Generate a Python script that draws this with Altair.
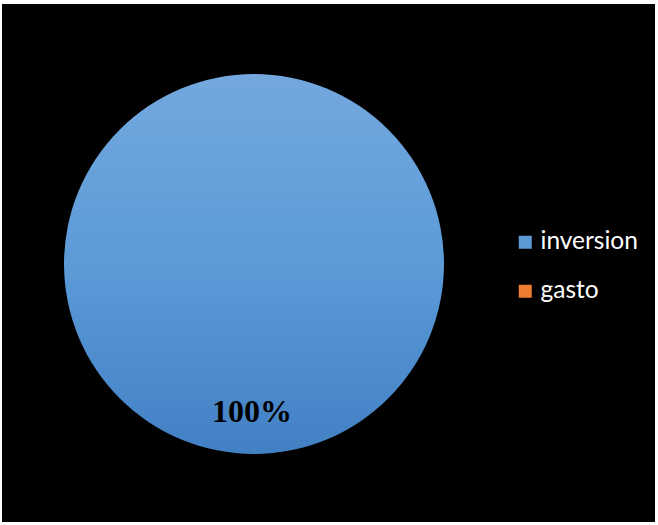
import altair as alt
import pandas as pd

categories = ["inversion", "gasto"]
values = [100, 0]
labels = ["100%", ""]
colors = ["#5b9bd5", "#ed7d31"]

df = pd.DataFrame({"cat": categories, "value": values, "label": labels})

grad = alt.Gradient(
    gradient="linear",
    stops=[alt.GradientStop(color="#74a8de", offset=0),
           alt.GradientStop(color="#5b9bd8", offset=0.5),
           alt.GradientStop(color="#4280c4", offset=1)],
    x1=0, x2=0, y1=0, y2=1,
)

base = alt.Chart(df)

pie = base.transform_filter("datum.value > 0").mark_arc(radius=190, fill=grad, strokeWidth=0).encode(
    theta=alt.Theta("value:Q", stack=True),
    x=alt.value(252),
    y=alt.value(260),
)

txt = base.transform_filter("datum.value > 0").mark_text(
    font="Liberation Serif", fontWeight="bold", fontSize=32, color="black", baseline="middle", align="center"
).encode(
    text="label:N",
    x=alt.value(250),
    y=alt.value(408),
)

leg = base.mark_square(opacity=0, size=169).encode(
    color=alt.Color("cat:N", sort=categories,
                    scale=alt.Scale(domain=categories, range=colors),
                    legend=alt.Legend(title=None, orient="none", legendX=511, legendY=226,
                                      symbolType="square", symbolSize=169, symbolOpacity=1,
                                      symbolStrokeWidth=0, labelFont="Lato", labelFontSize=24.5,
                                      labelColor="white", rowPadding=24, labelOffset=3)),
    x=alt.value(-100),
    y=alt.value(-100),
)

chart = alt.layer(pie, txt, leg).properties(
    width=653, height=518,
    autosize=alt.AutoSizeParams(type="none"),
    padding={"left": 2, "top": 4, "right": 3, "bottom": 3},
    background="white",
).configure_view(fill="black", stroke=None)

chart.save("out.html", embed_options={"renderer": "svg", "actions": False})
